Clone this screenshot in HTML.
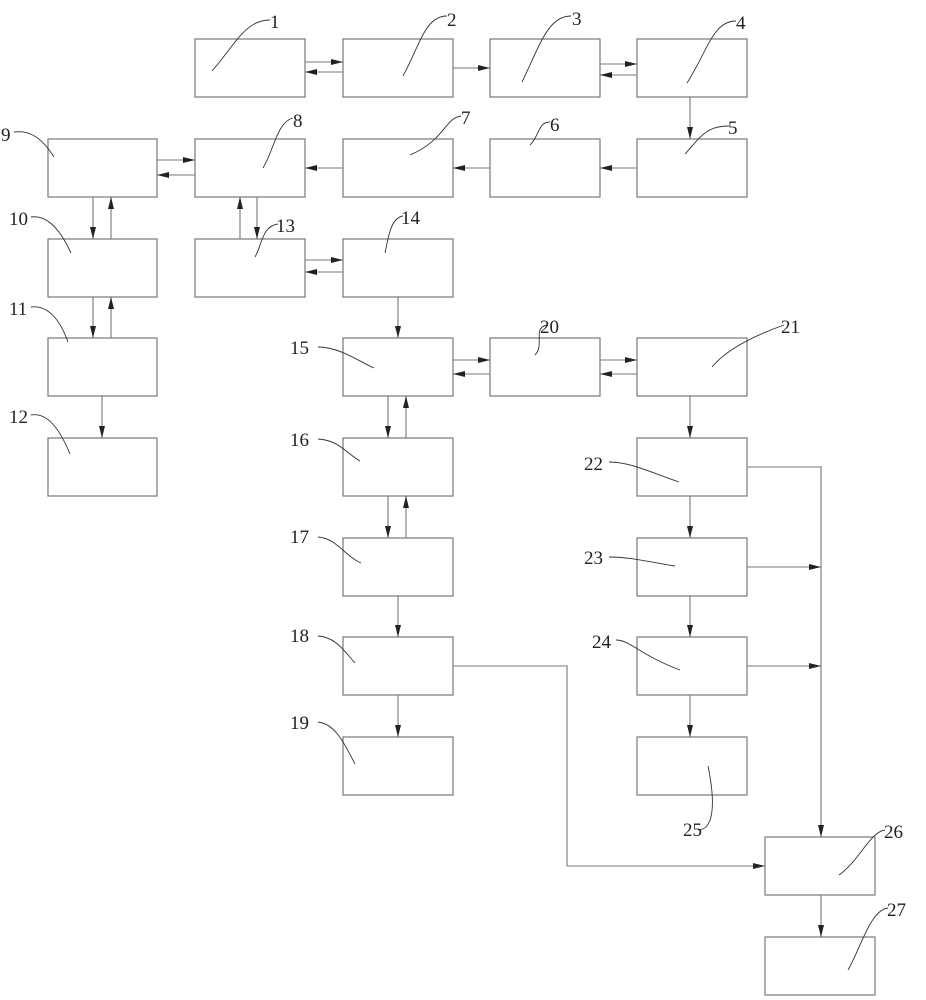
<!DOCTYPE html>
<html><head><meta charset="utf-8"><style>
html,body{margin:0;padding:0;background:#fff}
svg{display:block}
text{font-family:"Liberation Serif",serif;font-size:19px;fill:#222}
</style></head><body>
<svg width="926" height="1000" viewBox="0 0 926 1000" xmlns="http://www.w3.org/2000/svg">
<defs><marker id="a" viewBox="0 0 12 6" refX="12" refY="3" markerWidth="12" markerHeight="6" markerUnits="userSpaceOnUse" orient="auto"><path d="M0,0L12,3L0,6z" fill="#222"/></marker></defs>
<g fill="none" stroke="#777" stroke-width="1.2">
<rect x="195" y="39" width="110" height="58"/><rect x="343" y="39" width="110" height="58"/><rect x="490" y="39" width="110" height="58"/><rect x="637" y="39" width="110" height="58"/>
<rect x="48" y="139" width="109" height="58"/><rect x="195" y="139" width="110" height="58"/><rect x="343" y="139" width="110" height="58"/><rect x="490" y="139" width="110" height="58"/><rect x="637" y="139" width="110" height="58"/>
<rect x="48" y="239" width="109" height="58"/><rect x="195" y="239" width="110" height="58"/><rect x="343" y="239" width="110" height="58"/>
<rect x="48" y="338" width="109" height="58"/><rect x="343" y="338" width="110" height="58"/><rect x="490" y="338" width="110" height="58"/><rect x="637" y="338" width="110" height="58"/>
<rect x="48" y="438" width="109" height="58"/><rect x="343" y="438" width="110" height="58"/><rect x="637" y="438" width="110" height="58"/>
<rect x="343" y="538" width="110" height="58"/><rect x="637" y="538" width="110" height="58"/>
<rect x="343" y="637" width="110" height="58"/><rect x="637" y="637" width="110" height="58"/>
<rect x="343" y="737" width="110" height="58"/><rect x="637" y="737" width="110" height="58"/>
<rect x="765" y="837" width="110" height="58"/><rect x="765" y="937" width="110" height="58"/>
</g>
<g fill="none" stroke="#777" stroke-width="1.1" marker-end="url(#a)">
<path d="M305,62H343"/><path d="M343,72H305"/>
<path d="M453,68H490"/>
<path d="M600,64H637"/><path d="M637,75H600"/>
<path d="M690,97V139"/>
<path d="M637,168H600"/><path d="M490,168H453"/><path d="M343,168H305"/>
<path d="M157,160H195"/><path d="M195,175H157"/>
<path d="M93,197V239"/><path d="M111,239V197"/>
<path d="M240,239V197"/><path d="M257,197V239"/>
<path d="M305,260H343"/><path d="M343,272H305"/>
<path d="M398,297V338"/>
<path d="M93,297V338"/><path d="M111,338V297"/>
<path d="M102,396V438"/>
<path d="M453,360H490"/><path d="M490,374H453"/>
<path d="M600,360H637"/><path d="M637,374H600"/>
<path d="M388,396V438"/><path d="M406,438V396"/>
<path d="M388,496V538"/><path d="M406,538V496"/>
<path d="M398,596V637"/><path d="M398,695V737"/>
<path d="M690,396V438"/><path d="M690,496V538"/><path d="M690,596V637"/><path d="M690,695V737"/>
<path d="M747,467H821V837"/>
<path d="M747,567H821"/><path d="M747,666H821"/>
<path d="M453,666H567V866H765"/>
<path d="M821,895V937"/>
</g>
<g fill="none" stroke="#333" stroke-width="0.9">
<path d="M270,20C245,20 235,45 212,71"/>
<path d="M447,16C425,16 420,45 403,76"/>
<path d="M571,16C548,16 540,45 522,82"/>
<path d="M736,21C713,21 708,50 687,83"/>
<path d="M729,126C705,126 700,138 685,154"/>
<path d="M550,122C538,122 540,135 530,145"/>
<path d="M461,116C445,118 445,140 410,155"/>
<path d="M293,118C277,122 274,150 263,168"/>
<path d="M14,132C30,130 42,138 54,157"/>
<path d="M31,217C45,215 58,225 71,253"/>
<path d="M31,307C48,305 60,320 68,342"/>
<path d="M31,415C48,412 60,430 70,454"/>
<path d="M278,224C262,226 262,245 255,257"/>
<path d="M403,216C390,218 388,240 385,253"/>
<path d="M318,347C340,347 360,362 374,368"/>
<path d="M318,439C338,440 345,452 360,461"/>
<path d="M318,537C336,538 345,556 361,563"/>
<path d="M318,636C336,637 345,652 355,663"/>
<path d="M318,722C336,724 345,745 355,764"/>
<path d="M547,325C532,328 545,345 535,355"/>
<path d="M784,325C770,330 730,345 712,367"/>
<path d="M609,462C630,462 650,472 679,482"/>
<path d="M609,557C630,557 650,562 675,566"/>
<path d="M616,640C630,640 640,655 680,670"/>
<path d="M698,830C715,830 715,800 708,766"/>
<path d="M885,830C870,832 860,860 839,875"/>
<path d="M888,908C870,910 860,950 848,970"/>
</g>
<g>
<text x="270" y="28">1</text><text x="447" y="26">2</text><text x="572" y="25">3</text><text x="736" y="29">4</text>
<text x="728" y="134">5</text><text x="550" y="131">6</text><text x="461" y="124">7</text><text x="293" y="127">8</text>
<text x="1" y="141">9</text><text x="9" y="225">10</text><text x="9" y="315">11</text><text x="9" y="423">12</text>
<text x="276" y="232">13</text><text x="401" y="224">14</text>
<text x="290" y="354">15</text><text x="290" y="446">16</text><text x="290" y="543">17</text><text x="290" y="642">18</text><text x="290" y="729">19</text>
<text x="540" y="333">20</text><text x="781" y="333">21</text>
<text x="584" y="470">22</text><text x="584" y="564">23</text><text x="592" y="648">24</text><text x="683" y="836">25</text>
<text x="884" y="838">26</text><text x="887" y="916">27</text>
</g>
</svg>
</body></html>
